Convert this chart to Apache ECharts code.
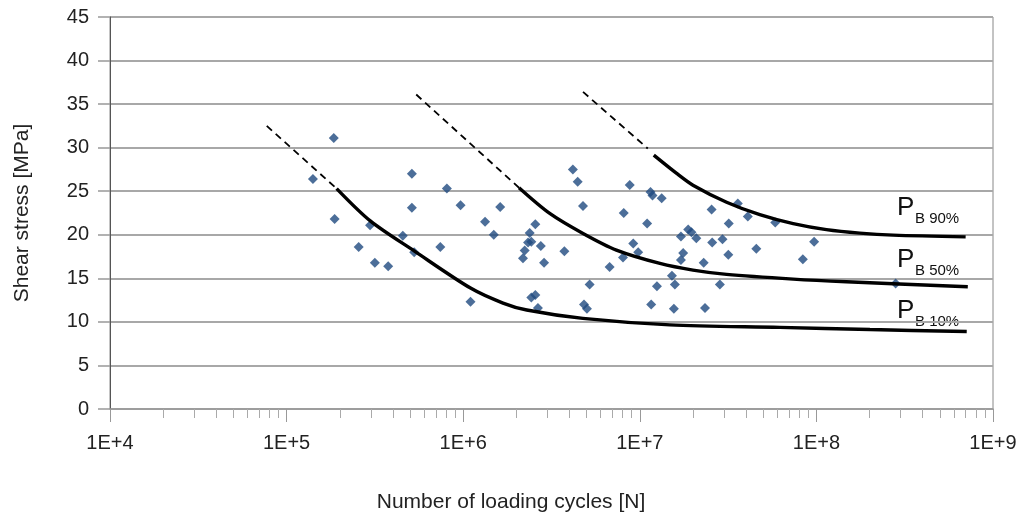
<!DOCTYPE html>
<html lang="en">
<head>
	<meta charset="UTF-8">
	<title>Shear stress vs. number of loading cycles</title>
	<script src="https://cdn.jsdelivr.net/npm/echarts@6/dist/echarts.min.js"></script>
	<style>
		html, body { margin: 0; padding: 0; background: #fff; }
	</style>
</head>
<body>
	<div id="main" style="width: 1021px;height: 516px;"></div>

	<script>
		// test results: cycles to failure and shear stress [MPa]
		var pointCycles = [
			1.41e5, 1.85e5, 1.87e5, 2.56e5, 2.97e5, 3.16e5, 3.76e5, 4.55e5, 5.12e5, 5.12e5,
			5.28e5, 7.42e5, 8.08e5, 9.66e5, 1.10e6, 1.33e6, 1.49e6, 1.62e6, 2.18e6, 2.23e6,
			2.33e6, 2.43e6, 2.38e6, 2.56e6, 2.75e6, 2.87e6, 2.43e6, 2.56e6, 2.65e6, 3.74e6,
			4.18e6, 4.45e6, 4.77e6, 4.83e6, 5.02e6, 5.20e6, 6.75e6, 8.03e6, 8.11e6, 8.77e6,
			9.18e6, 9.79e6, 1.10e7, 1.15e7, 1.18e7, 1.16e7, 1.25e7, 1.33e7, 1.52e7, 1.58e7,
			1.56e7, 1.71e7, 1.71e7, 1.76e7, 1.88e7, 1.96e7, 2.09e7, 2.30e7, 2.34e7, 2.55e7,
			2.57e7, 2.84e7, 2.94e7, 3.17e7, 3.19e7, 3.59e7, 4.09e7, 4.57e7, 5.85e7, 8.38e7,
			9.71e7, 2.81e8
		];
		var pointStress = [
			26.4, 31.1, 21.8, 18.6, 21.1, 16.8, 16.4, 19.9, 27.0, 23.1,
			18.0, 18.6, 25.3, 23.4, 12.3, 21.5, 20.0, 23.2, 17.3, 18.2,
			19.1, 19.2, 20.2, 21.2, 18.7, 16.8, 12.8, 13.1, 11.6, 18.1,
			27.5, 26.1, 23.3, 12.0, 11.5, 14.3, 16.3, 17.4, 22.5, 25.7,
			19.0, 18.0, 21.3, 24.9, 24.5, 12.0, 14.1, 24.2, 15.3, 14.3,
			11.5, 19.8, 17.1, 17.9, 20.6, 20.3, 19.6, 16.8, 11.6, 22.9,
			19.1, 14.3, 19.5, 17.7, 21.3, 23.6, 22.1, 18.4, 21.4, 17.2,
			19.2, 14.4
		];

		// probability curves (solid part)
		var p10Cycles = [1.92e5, 2.99e5, 5.30e5, 1.10e6, 1.68e6, 2.29e6, 4.76e6, 1.48e7, 6.21e7, 2.01e8, 7.1e8];
		var p10Stress = [25.3, 21.56, 18.12, 13.88, 12.16, 11.36, 10.4, 9.66, 9.37, 9.12, 8.89];
		var p50Cycles = [2.07e6, 3.09e6, 4.77e6, 7.37e6, 1.30e7, 2.00e7, 3.10e7, 7.39e7, 1.48e8, 7.2e8];
		var p50Stress = [25.4, 22.45, 20.15, 18.24, 16.71, 15.94, 15.45, 14.91, 14.6, 14.03];
		var p90Cycles = [1.20e7, 1.61e7, 2.00e7, 3.10e7, 4.78e7, 7.39e7, 1.14e8, 1.76e8, 2.72e8, 7.0e8];
		var p90Stress = [29.14, 27.07, 25.69, 23.74, 22.31, 21.28, 20.59, 20.19, 19.96, 19.76];

		// extrapolated (dashed) part
		var p10DashCycles = [7.72e4, 1.92e5];
		var p10DashStress = [32.5, 25.3];
		var p50DashCycles = [5.42e5, 2.07e6];
		var p50DashStress = [36.1, 25.4];
		var p90DashCycles = [4.77e6, 1.11e7];
		var p90DashStress = [36.4, 29.9];

		var curveNames = ['B 10%', 'B 50%', 'B 90%'];

		function pairs(xs, ys) {
			return xs.map(function (x, i) { return [x, ys[i]]; });
		}

		// minor ticks 2..9 in every decade
		var minorTicks = [];
		for (var e = 4; e < 9; e++) {
			for (var m = 2; m <= 9; m++) {
				minorTicks.push(m * Math.pow(10, e));
			}
		}

		var chartDom = document.getElementById('main');
		var myChart = echarts.init(chartDom, null, { renderer: 'canvas' });
		var font = 'Liberation Sans, Arial, sans-serif';

		function solid(name, data) {
			return {
				type: 'line',
				name: name,
				data: data,
				smooth: 0.3,
				showSymbol: false,
				symbol: 'none',
				lineStyle: { color: '#000', width: 3.4 },
				z: 4
			};
		}
		function dashed(name, data) {
			return {
				type: 'line',
				name: name,
				data: data,
				showSymbol: false,
				symbol: 'none',
				lineStyle: { color: '#000', width: 1.8, type: [7, 5] },
				z: 4
			};
		}

		function curveLabel(text, x, y) {
			return [
				{
					type: 'text', x: x, y: y,
					style: { text: 'P', font: '26px ' + font, fill: '#111', textAlign: 'left', textVerticalAlign: 'bottom' }
				},
				{
					type: 'text', x: x + 18, y: y + 5,
					style: { text: text, font: '15px ' + font, fill: '#111', textAlign: 'left', textVerticalAlign: 'bottom' }
				}
			];
		}

		var option = {
			animation: false,
			backgroundColor: '#fff',
			grid: {
				left: 110,
				right: 28,
				top: 17,
				bottom: 107,
				show: true,
				borderColor: '#888',
				borderWidth: 1
			},
			xAxis: [
				{
					type: 'log',
					logBase: 10,
					min: 1e4,
					max: 1e9,
					splitNumber: 5,
					axisLine: { show: true, lineStyle: { color: '#999', width: 1.5 } },
					axisTick: { show: true, length: 13, lineStyle: { color: '#999', width: 1 } },
					axisLabel: {
						margin: 24,
						fontFamily: font,
						fontSize: 20,
						color: '#222',
						formatter: function (v) {
							return '1E+' + Math.round(Math.log10(v));
						}
					},
					splitLine: { show: false }
				},
				{
					type: 'log',
					logBase: 10,
					min: 1e4,
					max: 1e9,
					position: 'bottom',
					axisLine: { show: false },
					axisLabel: { show: false },
					splitLine: { show: false },
					axisTick: { show: true, length: 9, customValues: minorTicks, lineStyle: { color: '#aaa', width: 1 } }
				}
			],
			yAxis: {
				type: 'value',
				min: 0,
				max: 45,
				interval: 5,
				axisLine: { show: true, lineStyle: { color: '#555', width: 1 } },
				axisTick: { show: true, length: 12, lineStyle: { color: '#999', width: 1.5 } },
				axisLabel: { margin: 21, fontFamily: font, fontSize: 20, color: '#222' },
				splitLine: { show: true, lineStyle: { color: '#a8a8a8', width: 2 } }
			},
			graphic: [
				{
					type: 'text',
					x: 22,
					y: 213,
					rotation: Math.PI / 2,
					style: {
						text: 'Shear stress [MPa]',
						font: '21px ' + font,
						fill: '#222',
						textAlign: 'center',
						textVerticalAlign: 'middle'
					}
				},
				{
					type: 'text',
					x: 511,
					y: 502,
					style: {
						text: 'Number of loading cycles [N]',
						font: '21px ' + font,
						fill: '#222',
						textAlign: 'center',
						textVerticalAlign: 'middle'
					}
				}
			]
				.concat(curveLabel(curveNames[2], 897, 221))
				.concat(curveLabel(curveNames[1], 897, 273))
				.concat(curveLabel(curveNames[0], 897, 324)),
			series: [
				{
					type: 'scatter',
					name: 'tests',
					data: pairs(pointCycles, pointStress),
					symbol: 'diamond',
					symbolSize: 10,
					itemStyle: { color: '#1F4A80' },
					z: 3
				},
				solid('P10', pairs(p10Cycles, p10Stress)),
				solid('P50', pairs(p50Cycles, p50Stress)),
				solid('P90', pairs(p90Cycles, p90Stress)),
				dashed('P10 ext', pairs(p10DashCycles, p10DashStress)),
				dashed('P50 ext', pairs(p50DashCycles, p50DashStress)),
				dashed('P90 ext', pairs(p90DashCycles, p90DashStress))
			]
		};

		myChart.setOption(option);
	</script>
</body>
</html>
